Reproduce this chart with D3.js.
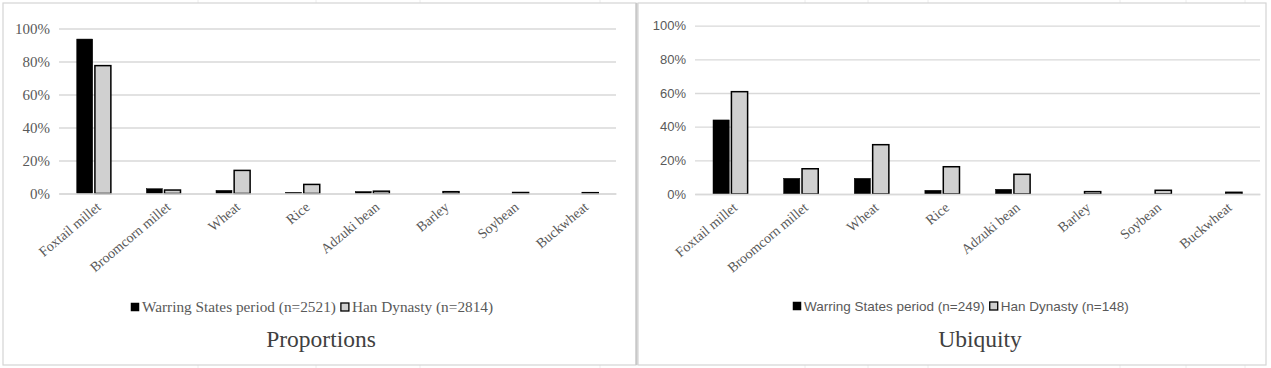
<!DOCTYPE html>
<html>
<head>
<meta charset="utf-8">
<script src="https://cdn.jsdelivr.net/npm/d3@7"></script>
<style>
  html, body { margin: 0; padding: 0; background: #ffffff; }
  svg { display: block; }
</style>
</head>
<body>
<svg id="chart" width="1271" height="368"></svg>
<script>
// ---------- DATA ----------
const categories = ["Foxtail millet", "Broomcorn millet", "Wheat", "Rice", "Adzuki bean", "Barley", "Soybean", "Buckwheat"];
const seriesNames = ["Warring States period", "Han Dynasty"];
const yTicks = [0, 0.2, 0.4, 0.6, 0.8, 1.0];

// Proportions panel
const propWarring = [0.936, 0.029, 0.019, 0.007, 0.012, 0.000, 0.000, 0.000];
const propHan     = [0.775, 0.021, 0.140, 0.055, 0.014, 0.011, 0.006, 0.005];
const propLegend  = ["Warring States period (n=2521)", "Han Dynasty (n=2814)"];
const propTitle   = "Proportions";

// Ubiquity panel
const ubiqWarring = [0.440, 0.093, 0.093, 0.022, 0.028, 0.000, 0.000, 0.000];
const ubiqHan     = [0.608, 0.150, 0.293, 0.162, 0.117, 0.014, 0.022, 0.010];
const ubiqLegend  = ["Warring States period (n=249)", "Han Dynasty (n=148)"];
const ubiqTitle   = "Ubiquity";

// ---------- DRAW ----------
const svg = d3.select("#chart");
const SERIF = "'Liberation Serif', 'Times New Roman', serif";
const SANS = "'Liberation Sans', Arial, sans-serif";
const TEXT = "#595959";
const GRID = "#d9d9d9";
const fills = ["#000000", "#d0d0d0"];

// faint spreadsheet cell lines in background
const bg = svg.append("g");
[198, 316, 420, 600, 805, 868, 928, 1120, 1186, 1245].forEach(x => {
  bg.append("line").attr("x1", x).attr("x2", x).attr("y1", 0).attr("y2", 368)
    .attr("stroke", "#ececec").attr("stroke-width", 1);
});

function drawPanel(opt) {
  const g = svg.append("g");
  // panel frame
  g.append("rect").attr("x", opt.px).attr("y", opt.py).attr("width", opt.pw).attr("height", opt.ph)
    .attr("fill", "#ffffff").attr("stroke", "#d4d4d4").attr("stroke-width", 1.2);

  const y = d3.scaleLinear().domain([0, 1]).range([opt.y0, opt.y100]);
  const x0 = d3.scaleBand().domain(categories).range([opt.x0, opt.x1])
    .paddingInner(0.51).paddingOuter(0.255);
  const x1 = d3.scaleBand().domain(seriesNames).range([0, x0.bandwidth()]).paddingInner(0.12);

  // gridlines
  const yAxis = d3.axisLeft(y).tickValues(yTicks).tickFormat(d3.format(".0%"))
    .tickSize(-(opt.x1 - opt.x0)).tickPadding(9);
  const ya = g.append("g").attr("transform", `translate(${opt.x0},0)`).call(yAxis);
  ya.select(".domain").remove();
  ya.selectAll(".tick line").attr("stroke", GRID).attr("stroke-width", 1.3);
  ya.selectAll(".tick text").attr("fill", TEXT).attr("font-family", opt.tickFont)
    .attr("font-size", opt.tickSize);

  // bars
  const data = categories.map((c, i) => ({ c, vals: [opt.a[i], opt.b[i]] }));
  const grp = g.selectAll(".grp").data(data).join("g")
    .attr("transform", d => `translate(${x0(d.c)},0)`);
  grp.selectAll("rect").data(d => d.vals.map((v, j) => ({ v, s: seriesNames[j], j })))
    .join("rect")
    .filter(d => d.v > 0)
    .attr("x", d => x1(d.s))
    .attr("width", x1.bandwidth())
    .attr("y", d => y(d.v))
    .attr("height", d => y(0) - y(d.v))
    .attr("fill", d => fills[d.j])
    .attr("stroke", "#000")
    .attr("stroke-width", d => d.j === 0 ? 0.5 : 1.5);

  // baseline axis
  const xAxis = d3.axisBottom(x0).tickSize(0).tickPadding(0);
  const xa = g.append("g").attr("transform", `translate(0,${opt.y0})`).call(xAxis);
  xa.select(".domain").attr("stroke", GRID).attr("stroke-width", 1.3);
  xa.selectAll(".tick text")
    .attr("fill", TEXT).attr("font-family", SERIF).attr("font-size", 14)
    .attr("text-anchor", "end")
    .attr("dy", 0)
    .attr("transform", "translate(8,15) rotate(-40)");

  // legend
  const lg = g.append("g").attr("transform", `translate(${opt.legX},${opt.legY})`);
  let cx = 0;
  opt.legend.forEach((t, j) => {
    lg.append("rect").attr("x", cx).attr("y", -9).attr("width", 8).attr("height", 8)
      .attr("fill", fills[j]).attr("stroke", "#000").attr("stroke-width", j === 0 ? 0.5 : 1.3);
    const tx = lg.append("text").attr("x", cx + 11).attr("y", 0).text(t)
      .attr("fill", TEXT).attr("font-family", opt.legFont).attr("font-size", opt.legSize);
    cx += 11 + tx.node().getComputedTextLength() + 5;
  });

  // title
  g.append("text").attr("x", opt.titleX).attr("y", opt.titleY).attr("text-anchor", "middle")
    .attr("fill", "#404040").attr("font-family", SERIF).attr("font-size", 23.5).text(opt.title);
}

drawPanel({
  px: 3, py: 3, pw: 633, ph: 362,
  x0: 59, x1: 616, y0: 193.5, y100: 28.5,
  a: propWarring, b: propHan,
  tickFont: SERIF, tickSize: 15,
  legend: propLegend, legX: 131, legY: 312, legFont: SERIF, legSize: 15.3,
  title: propTitle, titleX: 321, titleY: 347
});

drawPanel({
  px: 638, py: 3, pw: 628, ph: 362,
  x0: 695, x1: 1260, y0: 194, y100: 25.7,
  a: ubiqWarring, b: ubiqHan,
  tickFont: SANS, tickSize: 13,
  legend: ubiqLegend, legX: 793, legY: 311, legFont: SANS, legSize: 13.5,
  title: ubiqTitle, titleX: 980, titleY: 347
});

// separator between panels
svg.append("line").attr("x1", 636.5).attr("x2", 636.5).attr("y1", 3).attr("y2", 365)
  .attr("stroke", "#c8c8c8").attr("stroke-width", 2);
</script>
</body>
</html>
